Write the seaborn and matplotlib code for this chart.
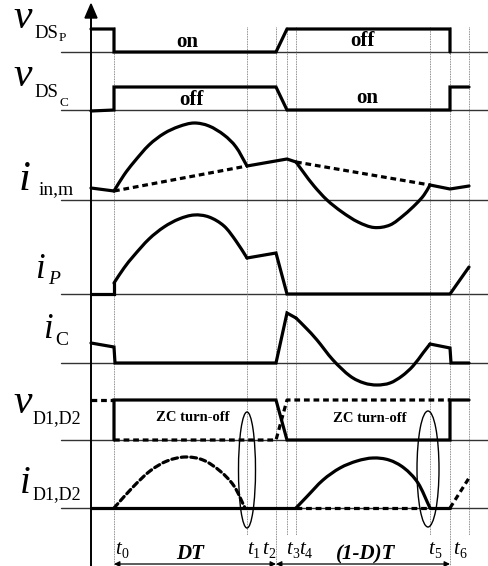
import numpy as np
import pandas as pd
import matplotlib
matplotlib.use("Agg")
import matplotlib.pyplot as plt
import seaborn as sns
from matplotlib.patches import Ellipse, Polygon, PathPatch
from matplotlib.path import Path

sns.set_theme(style="white")
plt.rcParams['font.family'] = ['Liberation Serif', 'DejaVu Serif']

# ---- switching instants (time axis, arbitrary units) ----
t_start = -2.3
t0, t1, t2, t3, t4, t5, t6 = 0.0, 13.3, 16.2, 17.3, 18.2, 31.6, 33.6
t_end = 35.5
t_marks = [t0, t1, t2, t3, t4, t5, t6]
t_names = ["0", "1", "2", "3", "4", "5", "6"]

# ---- switch voltages ----
vdsp_t = [t_start, t0, t0, t2, t3, t6, t6]
vdsp_v = [2.3, 2.3, 0, 0, 2.3, 2.3, 0]

vdsc_t = [t_start, t0, t0, t2, t3, t6, t6, t_end]
vdsc_v = [-0.1, 0, 2.3, 2.3, 0, 0, 2.3, 2.3]

# ---- input (magnetizing) current ----
iin_seg_a_t, iin_seg_a_v = [t_start, t0], [1.2, 0.9]
iin_arc1_t = [t0, 1.0, 2.0, 3.5, 5.0, 6.5, 8.0, 9.5, 11.0, 12.2, t1]
iin_arc1_v = [0.9, 2.5, 3.8, 5.5, 6.65, 7.35, 7.7, 7.4, 6.5, 5.3, 3.4]
iin_seg_b_t, iin_seg_b_v = [t1, t3, t4], [3.4, 4.1, 3.8]
iin_arc2_t = [t4, 19.0, 20.0, 21.3, 22.8, 24.4, 26.0, 27.6, 29.0, 30.2, 31.0, t5]
iin_arc2_v = [3.8, 2.7, 1.4, 0.0, -1.2, -2.2, -2.75, -2.5, -1.5, -0.4, 0.5, 1.5]
iin_seg_c_t, iin_seg_c_v = [t5, t6, t_end], [1.5, 1.1, 1.4]
iin_ramp1_t, iin_ramp1_v = [t0, t1], [0.9, 3.4]
iin_ramp2_t, iin_ramp2_v = [t4, t5], [3.8, 1.5]

# ---- primary switch current ----
ip_seg_a_t, ip_seg_a_v = [t_start, t0, t0], [0, 0, 1.1]
ip_arc_t = [t0, 1.0, 2.0, 3.5, 5.0, 6.5, 8.0, 9.5, 11.0, 12.2, t1]
ip_arc_v = [1.1, 2.6, 3.85, 5.5, 6.7, 7.5, 7.9, 7.7, 6.8, 5.3, 3.6]
ip_seg_b_t, ip_seg_b_v = [t1, t2, t3, t6, t_end], [3.6, 4.1, 0, 0, 2.7]

# ---- clamp switch current ----
ic_seg_a_t = [t_start, t0, t0 + 0.1, t2, t3, t4]
ic_seg_a_v = [2.0, 1.6, 0, 0, 5.0, 4.5]
ic_arc_t = [t4, 19.2, 20.3, 21.9, 23.6, 25.0, 26.3, 27.6, 28.8, 29.9, 30.9, t5]
ic_arc_v = [4.5, 3.5, 2.3, 0.3, -1.3, -2.0, -2.2, -2.0, -1.3, -0.3, 1.0, 1.9]
ic_seg_b_t, ic_seg_b_v = [t5, t6, t6 + 0.1, t_end], [1.9, 1.5, 0, 0]

# ---- output diode voltages ----
vd_solid_t = [t0, t0, t2, t3, t6, t6, t_end]
vd_solid_v = [0, 4.0, 4.0, 0, 0, 4.0, 4.0]
vd_dash_a_t, vd_dash_a_v = [t_start, t0], [4.0, 4.0]
vd_dash_b_t, vd_dash_b_v = [t0, t2, t3, t6], [0, 0, 4.0, 4.0]

# ---- output diode currents ----
id_seg_a_t, id_seg_a_v = [t_start, t4], [0, 0]
id_arc2_t = [t4, 19.3, 20.9, 22.6, 24.3, 25.9, 27.5, 29.0, 30.4, t5]
id_arc2_v = [0, 1.15, 2.8, 4.0, 4.7, 5.0, 4.8, 4.0, 2.5, 0]
id_seg_b_t, id_seg_b_v = [t5, t6], [0, 0]
id_arc1_t = [t0, 1.9, 3.6, 5.3, 7.1, 8.9, 10.6, 12.0, 13.1]
id_arc1_v = [0, 2.1, 3.7, 4.7, 5.1, 4.8, 3.7, 2.2, 0]
id_dash_b_t, id_dash_b_v = [t4, t5], [0, 0]
id_dash_c_t, id_dash_c_v = [t6, t_end], [0, 3.0]

# ---- layout ----
W, H = 489, 566
X0 = 114          # pixel column of t0
XS = 10.0         # pixels per time unit
SCALE = 10.0      # pixels per level unit
rows = {"vdsp": 52, "vdsc": 110, "iin": 200, "ip": 294, "ic": 363, "vd": 440, "id": 508}
LW = 2.3
DASH = (0, (1.8, 1.2))

fig = plt.figure(figsize=(W / 100, H / 100), dpi=100)
ax = fig.add_axes([0, 0, 1, 1])
ax.set_xlim((0 - X0) / XS, (W - X0) / XS)
ax.set_ylim(H, 0)
ax.axis("off")


def px(x):
    return (x - X0) / XS


def ys(vs, row):
    return [rows[row] - SCALE * v for v in vs]


def trace(ts, vs, row, dashed=False, lw=LW):
    df = pd.DataFrame({"t": ts, "y": ys(vs, row)})
    sns.lineplot(data=df, x="t", y="y", sort=False, estimator=None, color="black",
                 linewidth=lw, ax=ax, legend=False, solid_joinstyle="miter",
                 solid_capstyle="round", linestyle=DASH if dashed else "-")


def arc(ts, vs, row, dashed=False, lw=LW):
    """Smooth curve through the given samples (cubic Bezier pieces)."""
    P = np.column_stack([ts, ys(vs, row)])
    ext = np.vstack([2 * P[0] - P[1], P, 2 * P[-1] - P[-2]])
    verts, codes = [P[0]], [Path.MOVETO]
    for i in range(len(P) - 1):
        a, b, c, d = ext[i], ext[i + 1], ext[i + 2], ext[i + 3]
        verts += [b + (c - a) / 6.0, c - (d - b) / 6.0, c]
        codes += [Path.CURVE4] * 3
    ax.add_patch(PathPatch(Path(verts, codes), fill=False, edgecolor="black", lw=lw,
                           linestyle=DASH if dashed else "-", capstyle="round"))


# baselines
for r in rows.values():
    ax.plot([px(61), px(W)], [r, r], color="#333333", lw=1.0, zorder=1)

# dotted time markers
for tm in t_marks:
    bottom = 566 if tm in (t0, t2, t6) else 535
    ax.plot([tm, tm], [27, bottom], color="#666666", lw=0.6, ls=(0, (1, 1)), zorder=1)
ax.plot([t_end, t_end], [27, 535], color="#666666", lw=0.6, ls=(0, (1, 1)), zorder=1)

# vertical axis with arrow head
ax.plot([t_start, t_start], [17, H], color="black", lw=1.4)
ax.add_patch(Polygon([[t_start, 4], [t_start - 0.6, 18], [t_start + 0.6, 18]],
                     closed=True, color="black"))

# waveforms
trace(vdsp_t, vdsp_v, "vdsp")
trace(vdsc_t, vdsc_v, "vdsc")

trace(iin_seg_a_t, iin_seg_a_v, "iin")
arc(iin_arc1_t, iin_arc1_v, "iin")
trace(iin_seg_b_t, iin_seg_b_v, "iin")
arc(iin_arc2_t, iin_arc2_v, "iin")
trace(iin_seg_c_t, iin_seg_c_v, "iin")
trace(iin_ramp1_t, iin_ramp1_v, "iin", dashed=True)
trace(iin_ramp2_t, iin_ramp2_v, "iin", dashed=True)

trace(ip_seg_a_t, ip_seg_a_v, "ip")
arc(ip_arc_t, ip_arc_v, "ip")
trace(ip_seg_b_t, ip_seg_b_v, "ip")

trace(ic_seg_a_t, ic_seg_a_v, "ic")
arc(ic_arc_t, ic_arc_v, "ic")
trace(ic_seg_b_t, ic_seg_b_v, "ic")

trace(vd_solid_t, vd_solid_v, "vd")
trace(vd_dash_a_t, vd_dash_a_v, "vd", dashed=True)
trace(vd_dash_b_t, vd_dash_b_v, "vd", dashed=True)

trace(id_seg_a_t, id_seg_a_v, "id")
arc(id_arc2_t, id_arc2_v, "id")
trace(id_seg_b_t, id_seg_b_v, "id")
arc(id_arc1_t, id_arc1_v, "id", dashed=True)
trace(id_dash_b_t, id_dash_b_v, "id", dashed=True)
trace(id_dash_c_t, id_dash_c_v, "id", dashed=True)

# zero-current turn-off ellipses
ax.add_patch(Ellipse((t1, 470), 1.7, 116, fill=False, lw=1.0, color="black"))
ax.add_patch(Ellipse((t5 - 0.2, 469), 2.2, 116, fill=False, lw=1.0, color="black"))

# interval dimension arrows
for a, b in [(t0, t2), (t2, t6)]:
    ax.annotate("", xy=(b, 564), xytext=(a, 564),
                arrowprops=dict(arrowstyle="<|-|>", color="black", lw=0.9,
                                mutation_scale=8, shrinkA=0, shrinkB=0))


def put(x, y, s, size, style="normal", weight="normal", ha="left"):
    ax.text(px(x), y, s, fontsize=size, fontstyle=style, fontweight=weight,
            ha=ha, va="baseline", color="black")


# signal names
put(13, 28, "v", 30, "italic"); put(34, 38, "DS", 13.5); put(59, 41, "P", 9.5)
put(13, 86, "v", 30, "italic"); put(34, 97, "DS", 13.5); put(59, 106, "C", 9.5)
put(19, 190, "i", 31, "italic"); put(39, 194, "in,m", 14)
put(35, 278, "i", 25, "italic"); put(48, 284, "P", 14, "italic")
put(43, 338, "i", 25, "italic"); put(55, 345, "C", 14)
put(13, 413, "v", 30, "italic"); put(33, 423, "D1,D2", 13)
put(20, 493, "i", 28, "italic"); put(33, 499, "D1,D2", 13)

# state annotations
put(187, 47, "on", 15, weight="bold", ha="center")
put(191, 105, "off", 15, weight="bold", ha="center")
put(362, 46, "off", 15, weight="bold", ha="center")
put(367, 103, "on", 15, weight="bold", ha="center")
put(193, 421, "ZC turn-off", 10.5, weight="bold", ha="center")
put(370, 422, "ZC turn-off", 10.5, weight="bold", ha="center")
put(190, 559, "DT", 15, "italic", "bold", ha="center")
put(366, 559, "(1-D)T", 15, "italic", "bold", ha="center")

# instant labels
t_label_x = [115, 247, 262, 286, 299, 428, 453]
for xl, n in zip(t_label_x, t_names):
    put(xl, 554, "t", 15, "italic")
    put(xl + 6, 558, n, 10)

fig.savefig("out.png", dpi=100)
